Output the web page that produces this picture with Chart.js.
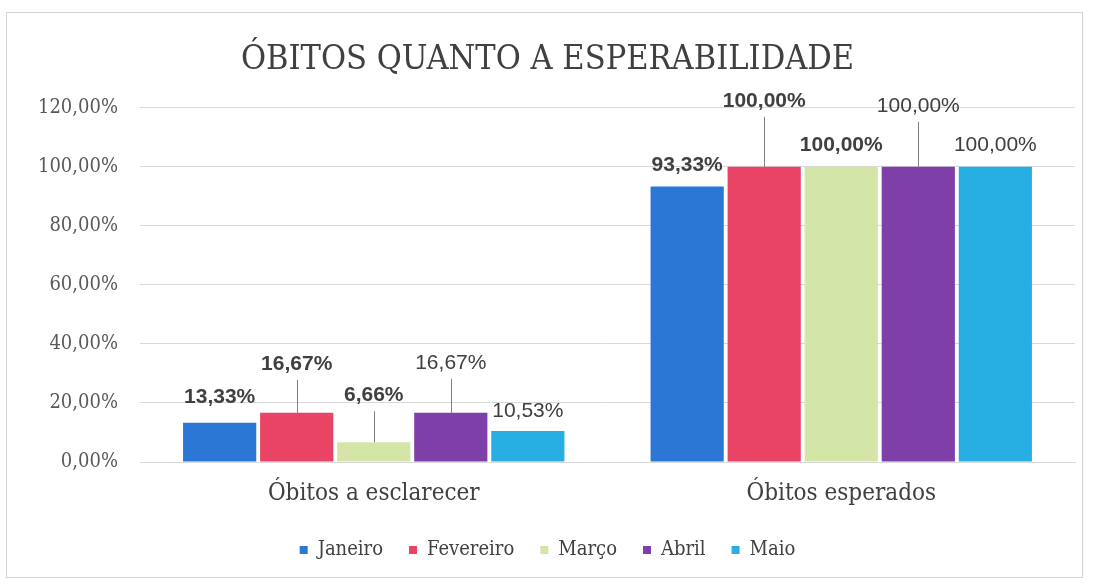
<!DOCTYPE html>
<html lang="pt-BR">
<head>
<meta charset="utf-8">
<title>Óbitos quanto a esperabilidade</title>
<script src="https://cdn.jsdelivr.net/npm/chart.js@4/dist/chart.umd.min.js"></script>
<style>
  html, body { margin: 0; padding: 0; background: #ffffff; }
  #grafico { display: block; }
</style>
</head>
<body>
<canvas id="grafico" width="1094" height="587"></canvas>
<script>
// categorias do eixo X
var categorias = ["Óbitos a esclarecer", "Óbitos esperados"];

// percentuais por mês
var janeiro = [13.33, 93.33];
var fevereiro = [16.67, 100.00];
var marco = [6.66, 100.00];
var abril = [16.67, 100.00];
var maio = [10.53, 100.00];

// eixo Y
var yTicks = [0, 20, 40, 60, 80, 100, 120];

var serif = '"DejaVu Serif Condensed", "DejaVu Serif", serif';

function pct(v) {
  return v.toFixed(2).replace(".", ",") + "%";
}

// rótulos dos valores acima das barras, alguns com linha guia
var rotulos = {
  id: "rotulos",
  afterDatasetsDraw: function (chart, args, opts) {
    var ctx = chart.ctx;
    ctx.save();
    ctx.textAlign = "center";
    ctx.textBaseline = "middle";
    chart.data.datasets.forEach(function (ds, i) {
      var meta = chart.getDatasetMeta(i);
      meta.data.forEach(function (bar, j) {
        var sobe = opts.sobe[i][j];
        var y = bar.y - sobe;
        ctx.font = (opts.negrito[i] ? "bold " : "") + '21px "Liberation Sans", Arial, sans-serif';
        ctx.fillStyle = "#404040";
        ctx.fillText(pct(ds.data[j]), bar.x, y);
        if (sobe > 40) {
          ctx.strokeStyle = "#7f7f7f";
          ctx.lineWidth = 1;
          ctx.beginPath();
          ctx.moveTo(Math.round(bar.x) + 0.5, y + 16);
          ctx.lineTo(Math.round(bar.x) + 0.5, bar.y);
          ctx.stroke();
        }
      });
    });
    ctx.restore();
  }
};

// moldura cinza em volta do gráfico
var moldura = {
  id: "moldura",
  beforeDraw: function (chart) {
    var ctx = chart.ctx;
    ctx.save();
    ctx.fillStyle = "#ffffff";
    ctx.fillRect(0, 0, chart.width, chart.height);
    ctx.strokeStyle = "#d4d4d4";
    ctx.lineWidth = 1;
    ctx.strokeRect(6.5, 12.5, 1076, 565);
    ctx.restore();
  }
};

var ctx = document.getElementById("grafico").getContext("2d");

var chart = new Chart(ctx, {
  type: "bar",
  data: {
    labels: categorias,
    datasets: [
      { label: "Janeiro", data: janeiro, backgroundColor: "#2b77d6" },
      { label: "Fevereiro", data: fevereiro, backgroundColor: "#e94466" },
      { label: "Março", data: marco, backgroundColor: "#d3e6a8" },
      { label: "Abril", data: abril, backgroundColor: "#7e3fa8" },
      { label: "Maio", data: maio, backgroundColor: "#27aee2" }
    ]
  },
  options: {
    responsive: false,
    animation: false,
    devicePixelRatio: 1,
    categoryPercentage: 0.824,
    barPercentage: 0.95,
    layout: { padding: { left: 20, right: 19, top: 0, bottom: 17 } },
    scales: {
      x: {
        grid: { display: false },
        border: { color: "#d9d9d9" },
        afterFit: function (scale) { scale.height = 52; },
        ticks: { color: "#404040", font: { family: serif, size: 24 }, padding: 9 }
      },
      y: {
        min: 0,
        max: 120,
        afterBuildTicks: function (scale) {
          scale.ticks = yTicks.map(function (v) { return { value: v }; });
        },
        afterFit: function (scale) { scale.width = 120; },
        grid: { color: "#d9d9d9", drawTicks: false },
        border: { display: false },
        ticks: {
          color: "#595959",
          padding: 22,
          font: { family: serif, size: 20 },
          callback: function (v) { return pct(v); }
        }
      }
    },
    plugins: {
      title: {
        display: true,
        text: "ÓBITOS QUANTO A ESPERABILIDADE",
        color: "#404040",
        font: { family: serif, size: 34, weight: "normal" },
        padding: { top: 40, bottom: 27 }
      },
      legend: {
        position: "bottom",
        labels: {
          color: "#404040",
          boxWidth: 8,
          boxHeight: 8,
          padding: 26,
          font: { family: serif, size: 20 }
        }
      },
      tooltip: { enabled: false },
      rotulos: {
        negrito: [true, true, true, false, false],
        sobe: [[25, 21], [49, 66], [47, 22], [50, 61], [20, 22]]
      }
    }
  },
  plugins: [moldura, rotulos]
});
</script>
</body>
</html>
